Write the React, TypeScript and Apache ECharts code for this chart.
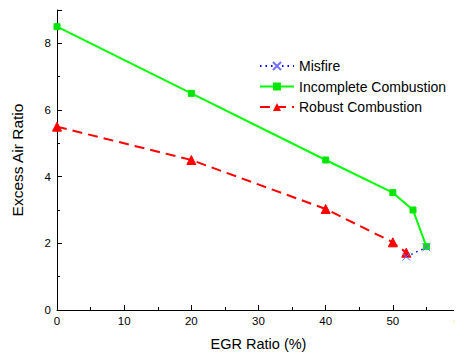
import React, { useEffect, useRef } from "react";
import * as echarts from "echarts";

const misfireX = [52, 55];
const misfireY = [1.6, 1.88];
const incompleteX = [0, 20, 40, 50, 53, 55];
const incompleteY = [8.5, 6.5, 4.5, 3.52, 3.0, 1.9];
const robustX = [0, 20, 40, 50, 52];
const robustY = [5.5, 4.5, 3.03, 2.03, 1.72];

const pairs = (xs: number[], ys: number[]) => xs.map((x, i) => [x, ys[i]]);

export default function App() {
  const ref = useRef<HTMLDivElement>(null);
  useEffect(() => {
    const chart = echarts.init(ref.current!, null, { renderer: "svg" });
    const font = "Liberation Sans, Arial, sans-serif";
    chart.setOption({
      animation: false,
      textStyle: { fontFamily: font },
      grid: { left: 57, right: 2, top: 10, bottom: 42, outerBoundsMode: "none", containLabel: false },
      legend: {
        left: 254,
        top: 54,
        orient: "vertical",
        itemWidth: 34,
        itemHeight: 10,
        itemGap: 6.5,
        textStyle: { fontSize: 14, color: "#000", fontFamily: font },
        data: ["Misfire", "Incomplete Combustion", "Robust Combustion"],
      },
      xAxis: {
        type: "value",
        min: 0,
        max: 60,
        interval: 10,
        name: "EGR Ratio (%)",
        nameLocation: "middle",
        nameGap: 26,
        nameTextStyle: { fontSize: 14.5, color: "#000", fontFamily: font },
        axisLine: { lineStyle: { color: "#000", width: 1 } },
        axisTick: { inside: true, length: 5, lineStyle: { color: "#000" } },
        minorTick: { show: true, splitNumber: 2, length: 3, lineStyle: { color: "#000" } },
        axisLabel: { fontSize: 11.5, color: "#000", margin: 5, fontFamily: font },
        splitLine: { show: false },
      },
      yAxis: {
        type: "value",
        min: 0,
        max: 9,
        interval: 2,
        name: "Excess Air Ratio",
        nameLocation: "middle",
        nameGap: 32,
        nameTextStyle: { fontSize: 15.5, color: "#000", fontFamily: font },
        axisLine: { show: true, lineStyle: { color: "#000", width: 1 } },
        axisTick: { inside: true, length: 5, lineStyle: { color: "#000" } },
        minorTick: { show: true, splitNumber: 2, length: 3, lineStyle: { color: "#000" } },
        axisLabel: { fontSize: 11.5, color: "#000", margin: 6, showMaxLabel: false, fontFamily: font },
        splitLine: { show: false },
      },
      series: [
        {
          name: "Misfire",
          type: "line",
          data: pairs(misfireX, misfireY),
          symbol: "path://M0,0L10,10M10,0L0,10",
          symbolSize: 8,
          itemStyle: { color: "#7070ff", borderColor: "#7070ff", borderWidth: 1 },
          lineStyle: { color: "#0000ff", width: 1.5, type: [1.5, 4] },
          z: 3,
        },
        {
          name: "Incomplete Combustion",
          type: "line",
          data: pairs(incompleteX, incompleteY),
          symbol: "rect",
          symbolSize: 6,
          itemStyle: { color: "#00e600", borderColor: "#00e600" },
          lineStyle: { color: "#00ff00", width: 2 },
          z: 2,
        },
        {
          name: "Robust Combustion",
          type: "line",
          data: pairs(robustX, robustY),
          symbol: "triangle",
          symbolSize: 9,
          itemStyle: { color: "#ff0000", borderColor: "#ff0000" },
          lineStyle: { color: "#ff0000", width: 2, type: [10, 6] },
          z: 2,
        },
      ],
    });
    return () => chart.dispose();
  }, []);
  return <div ref={ref} style={{ width: 462, height: 352, marginTop: -8, marginLeft: -8 }} />;
}
